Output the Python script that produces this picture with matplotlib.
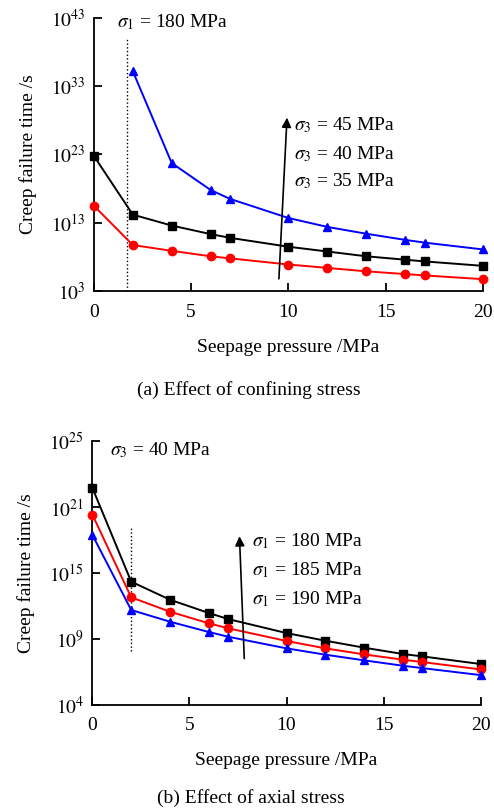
import numpy as np
import matplotlib
matplotlib.use("Agg")
import matplotlib.pyplot as plt

plt.rcParams['font.family'] = ['Liberation Serif', 'DejaVu Serif']
plt.rcParams['mathtext.fontset'] = 'stix'

# seepage pressure (MPa)
p = [0, 2, 4, 6, 7, 10, 12, 14, 16, 17, 20]
p_blue_a = [2, 4, 6, 7, 10, 12, 14, 16, 17, 20]

# (a) log10 of creep failure time, sigma1 = 180 MPa
a_s3_45 = [35.2, 21.75, 17.8, 16.5, 13.7, 12.4, 11.4, 10.5, 10.1, 9.1]
a_s3_40 = [22.8, 14.2, 12.6, 11.35, 10.8, 9.5, 8.8, 8.1, 7.6, 7.35, 6.7]
a_s3_35 = [15.5, 9.75, 8.9, 8.1, 7.8, 6.9, 6.4, 5.9, 5.5, 5.3, 4.75]

# (b) log10 of creep failure time, sigma3 = 40 MPa
b_s1_180 = [20.46, 13.34, 11.97, 10.96, 10.5, 9.44, 8.86, 8.33, 7.85, 7.67, 7.09]
b_s1_185 = [18.43, 12.15, 11.06, 10.18, 9.8, 8.84, 8.28, 7.82, 7.42, 7.24, 6.68]
b_s1_190 = [16.89, 11.19, 10.3, 9.52, 9.16, 8.28, 7.8, 7.37, 6.96, 6.78, 6.25]

a_yticks = [3, 13, 23, 33, 43]
a_ylabels = ['3', '13', '23', '33', '43']
b_yticks = [4, 9, 14, 19, 24]
b_ylabels = ['4', '9', '15', '21', '25']

fig = plt.figure(figsize=(4.94, 8.11), dpi=100)
ax1 = fig.add_axes([0.190, 0.641, 0.788, 0.337])
ax2 = fig.add_axes([0.187, 0.131, 0.786, 0.325])

FS = 14


def style(ax, yticks, ylabels, ylim):
    ax.set_yscale('log')
    ax.set_ylim(10.0 ** ylim[0], 10.0 ** ylim[1])
    ax.set_xlim(0, 20)
    ax.set_xticks([0, 5, 10, 15, 20])
    ax.set_yticks([10.0 ** v for v in yticks])
    ax.set_yticklabels([r'$10^{%s}$' % s for s in ylabels])
    ax.yaxis.set_minor_locator(matplotlib.ticker.NullLocator())
    for s in ['top', 'right']:
        ax.spines[s].set_visible(False)
    for s in ['left', 'bottom']:
        ax.spines[s].set_linewidth(1.3)
    ax.tick_params(direction='in', length=6, width=1.3, labelsize=FS)
    ax.tick_params(axis='x', pad=9)
    ax.tick_params(axis='y', pad=6)
    ax.set_xlabel('Seepage pressure /MPa', fontsize=FS, labelpad=13)
    ax.set_ylabel('Creep failure time /s', fontsize=FS, labelpad=10)


kw = dict(linewidth=1.4, markersize=6, clip_on=False, zorder=3)

# (a)
ax1.plot(p_blue_a, 10.0 ** np.array(a_s3_45), color='blue', marker='^', **kw)
ax1.plot(p, 10.0 ** np.array(a_s3_40), color='black', marker='s', **kw)
ax1.plot(p, 10.0 ** np.array(a_s3_35), color='red', marker='o', **kw)
ax1.plot([1.68, 1.68], [10.0 ** 3, 10.0 ** 39.9], color='black', linestyle=':', linewidth=1)
style(ax1, a_yticks, a_ylabels, (3, 43))
ax1.annotate('', xy=(9.93, 10.0 ** 28.8), xytext=(9.5, 10.0 ** 4.4),
             arrowprops=dict(arrowstyle='-|>', color='black', lw=1.2, mutation_scale=14))
ax1.text(1.2, 10.0 ** 42.3, r'$\sigma_1$ = 180 MPa', fontsize=FS, va='center')
ax1.text(10.3, 10.0 ** 27.3, r'$\sigma_3$ = 45 MPa', fontsize=FS, va='center')
ax1.text(10.3, 10.0 ** 23.1, r'$\sigma_3$ = 40 MPa', fontsize=FS, va='center')
ax1.text(10.3, 10.0 ** 19.1, r'$\sigma_3$ = 35 MPa', fontsize=FS, va='center')

# (b)
ax2.plot(p, 10.0 ** np.array(b_s1_180), color='black', marker='s', **kw)
ax2.plot(p, 10.0 ** np.array(b_s1_185), color='red', marker='o', **kw)
ax2.plot(p, 10.0 ** np.array(b_s1_190), color='blue', marker='^', **kw)
ax2.plot([2.0, 2.0], [10.0 ** 8.1, 10.0 ** 17.6], color='black', linestyle=':', linewidth=1)
style(ax2, b_yticks, b_ylabels, (4, 24))
ax2.annotate('', xy=(7.57, 10.0 ** 17.0), xytext=(7.83, 10.0 ** 7.3),
             arrowprops=dict(arrowstyle='-|>', color='black', lw=1.2, mutation_scale=14))
ax2.text(0.9, 10.0 ** 23.3, r'$\sigma_3$ = 40 MPa', fontsize=FS, va='center')
ax2.text(8.2, 10.0 ** 16.4, r'$\sigma_1$ = 180 MPa', fontsize=FS, va='center')
ax2.text(8.2, 10.0 ** 14.2, r'$\sigma_1$ = 185 MPa', fontsize=FS, va='center')
ax2.text(8.2, 10.0 ** 12.0, r'$\sigma_1$ = 190 MPa', fontsize=FS, va='center')

fig.text(0.504, 1 - 390 / 811, '(a) Effect of confining stress', fontsize=FS, ha='center', va='center')
fig.text(0.508, 1 - 798 / 811, '(b) Effect of axial stress', fontsize=FS, ha='center', va='center')

fig.savefig('out.png', dpi=100)
